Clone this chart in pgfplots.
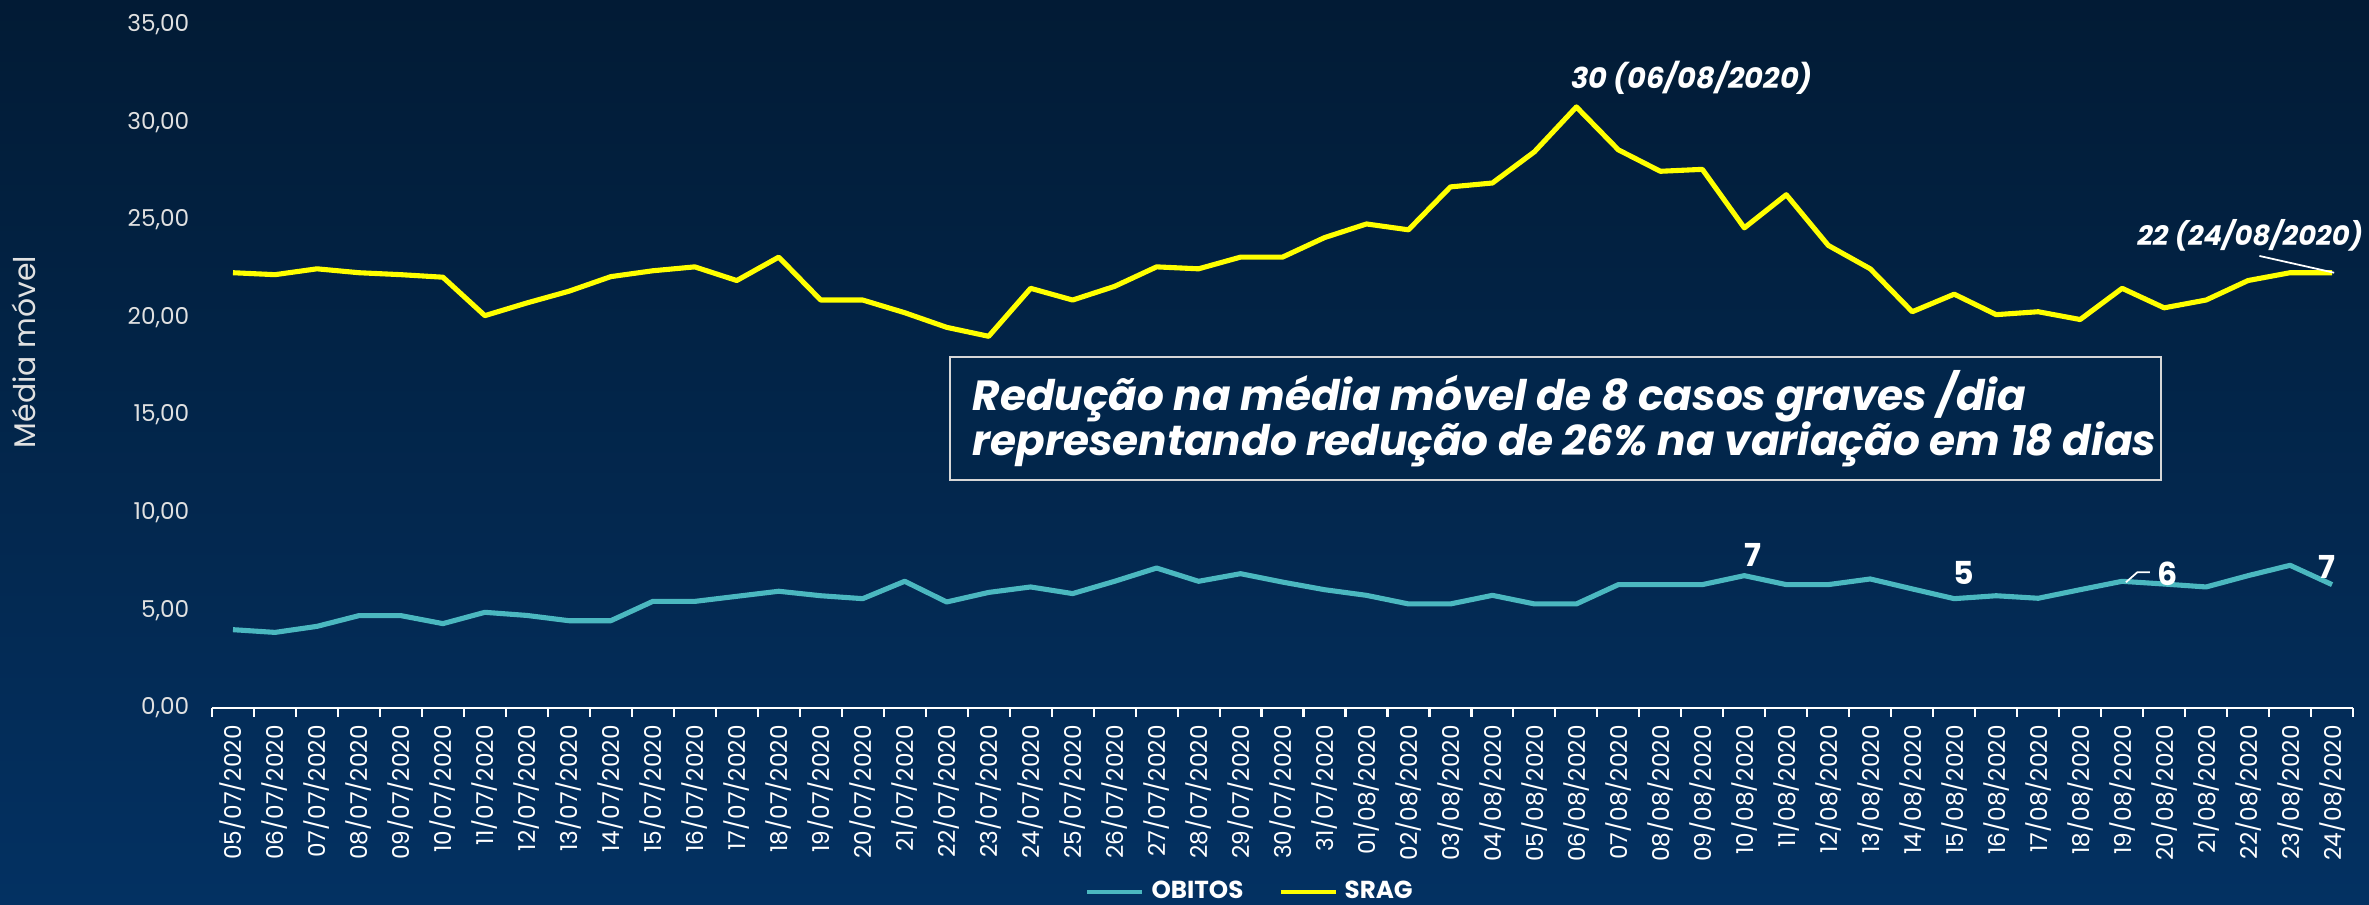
\documentclass[border=0pt]{standalone}
\usepackage{pgfplots}
\pgfplotsset{compat=1.18}
\usepackage{pgfplotstable}
\usepackage{fontspec}
\setmainfont{Poppins}
\definecolor{bgtop}{RGB}{2,27,53}
\definecolor{bgbot}{RGB}{3,49,98}
\definecolor{obteal}{RGB}{75,184,192}
\definecolor{sragy}{RGB}{255,255,0}
\definecolor{ticklbl}{RGB}{225,225,225}
\definecolor{boxborder}{RGB}{215,215,215}
\definecolor{boxfill}{RGB}{2,38,75}

\pgfplotstableread{
idx obitos srag
0  4.00 22.30
1  3.86 22.20
2  4.17 22.50
3  4.72 22.30
4  4.72 22.20
5  4.31 22.07
6  4.89 20.10
7  4.73 20.75
8  4.46 21.35
9  4.46 22.10
10 5.45 22.40
11 5.45 22.60
12 5.71 21.90
13 5.97 23.10
14 5.74 20.90
15 5.59 20.90
16 6.48 20.25
17 5.42 19.50
18 5.91 19.04
19 6.19 21.50
20 5.85 20.90
21 6.48 21.60
22 7.16 22.60
23 6.48 22.50
24 6.87 23.10
25 6.44 23.10
26 6.05 24.10
27 5.76 24.80
28 5.32 24.50
29 5.32 26.70
30 5.76 26.90
31 5.32 28.50
32 5.32 30.80
33 6.31 28.60
34 6.31 27.50
35 6.31 27.60
36 6.77 24.60
37 6.31 26.30
38 6.31 23.70
39 6.60 22.50
40 6.09 20.30
41 5.59 21.20
42 5.74 20.15
43 5.61 20.30
44 6.05 19.90
45 6.48 21.50
46 6.34 20.50
47 6.19 20.90
48 6.77 21.90
49 7.30 22.30
50 6.31 22.30
}\datatable

\begin{document}
\begin{tikzpicture}[x=1mm,y=1mm]
\shade[top color=bgtop, bottom color=bgbot] (0,0) rectangle (236.9,90.4);
\useasboundingbox (0,0) rectangle (236.9,90.4);
\node[rotate=90, text=ticklbl, font=\fontsize{8.5}{10}\selectfont] at (2.35,55.2) {Média móvel};
\begin{axis}[
  at={(21.2mm,19.63mm)}, anchor=south west,
  width=214.1mm, height=68.27mm, scale only axis,
  xmin=-0.5, xmax=50.5, ymin=0, ymax=35,
  clip=false,
  axis x line*=bottom, axis y line*=left,
  x axis line style={white, line width=0.6pt, -},
  y axis line style={draw=none},
  xtick={0,...,50},
  xticklabels={05/07/2020,06/07/2020,07/07/2020,08/07/2020,09/07/2020,10/07/2020,11/07/2020,12/07/2020,13/07/2020,14/07/2020,15/07/2020,16/07/2020,17/07/2020,18/07/2020,19/07/2020,20/07/2020,21/07/2020,22/07/2020,23/07/2020,24/07/2020,25/07/2020,26/07/2020,27/07/2020,28/07/2020,29/07/2020,30/07/2020,31/07/2020,01/08/2020,02/08/2020,03/08/2020,04/08/2020,05/08/2020,06/08/2020,07/08/2020,08/08/2020,09/08/2020,10/08/2020,11/08/2020,12/08/2020,13/08/2020,14/08/2020,15/08/2020,16/08/2020,17/08/2020,18/08/2020,19/08/2020,20/08/2020,21/08/2020,22/08/2020,23/08/2020,24/08/2020},
  minor xtick={-0.5,0.5,...,50.5},
  tick align=outside,
  major tick length=0pt,
  minor tick length=0.9mm,
  minor x tick style={white, line width=0.6pt},
  major x tick style={draw=none},
  ytick={0,5,...,35},
  ytick style={draw=none},
  xticklabel style={rotate=90, anchor=east, inner sep=0pt, text=white, font=\fontsize{6.6}{7}\selectfont},
  xticklabel shift=1.7mm,
  yticklabel style={anchor=east, inner sep=0pt, text=ticklbl, font=\fontsize{6.6}{7}\selectfont},
  yticklabel shift=2.2mm,
  /pgf/number format/.cd, fixed, fixed zerofill, precision=2, use comma, assume math mode=true,
  /pgfplots/.cd,
  legend style={at={(0.486,-0.270)}, anchor=center, draw=none, fill=none, text=white,
    font=\bfseries\fontsize{7}{8}\selectfont, legend columns=2,
    /tikz/every even column/.append style={column sep=2.8mm}},
  legend image code/.code={\draw[#1, line width=1.2pt] (0mm,0mm) -- (5.5mm,0mm);},
]
\addplot[obteal, line width=1.45pt, line join=round] table[x=idx,y=obitos]{\datatable};
\addlegendentry{OBITOS}
\addplot[sragy, line width=1.45pt, line join=round] table[x=idx,y=srag]{\datatable};
\addlegendentry{SRAG}

\draw[boxborder, line width=0.6pt, fill=boxfill] (axis cs:17.07,11.67) rectangle (axis cs:45.93,17.99);
\node[anchor=base west, inner sep=0pt, text=white, font=\bfseries\itshape\fontsize{12}{14}\selectfont] at (axis cs:17.6,15.25) {Redução na média móvel de 8 casos graves /dia};
\node[anchor=base west, inner sep=0pt, text=white, font=\bfseries\itshape\fontsize{12}{14}\selectfont] at (axis cs:17.6,12.95) {representando redução de 26\% na variação em 18 dias};

\node[text=white, inner sep=0pt, font=\bfseries\itshape\fontsize{8.2}{9}\selectfont] at (axis cs:34.75,32.27) {30 (06/08/2020)};
\node[anchor=east, text=white, inner sep=0pt, font=\bfseries\itshape\fontsize{7.8}{9}\selectfont] at (axis cs:50.75,24.23) {22 (24/08/2020)};
\draw[white, line width=0.5pt] (axis cs:48.27,23.16) -- (axis cs:50.05,22.30);

\node[text=white, inner sep=0pt, font=\bfseries\fontsize{9}{10}\selectfont] at (axis cs:36.2,7.83) {7};
\node[text=white, inner sep=0pt, font=\bfseries\fontsize{9}{10}\selectfont] at (axis cs:41.23,6.92) {5};
\node[text=white, inner sep=0pt, font=\bfseries\fontsize{9}{10}\selectfont] at (axis cs:46.07,6.85) {6};
\node[text=white, inner sep=0pt, font=\bfseries\fontsize{9}{10}\selectfont] at (axis cs:49.87,7.23) {7};
\draw[white, line width=0.5pt] (axis cs:45.09,6.43) -- (axis cs:45.36,6.94) -- (axis cs:45.66,6.94);
\end{axis}
\end{tikzpicture}
\end{document}
